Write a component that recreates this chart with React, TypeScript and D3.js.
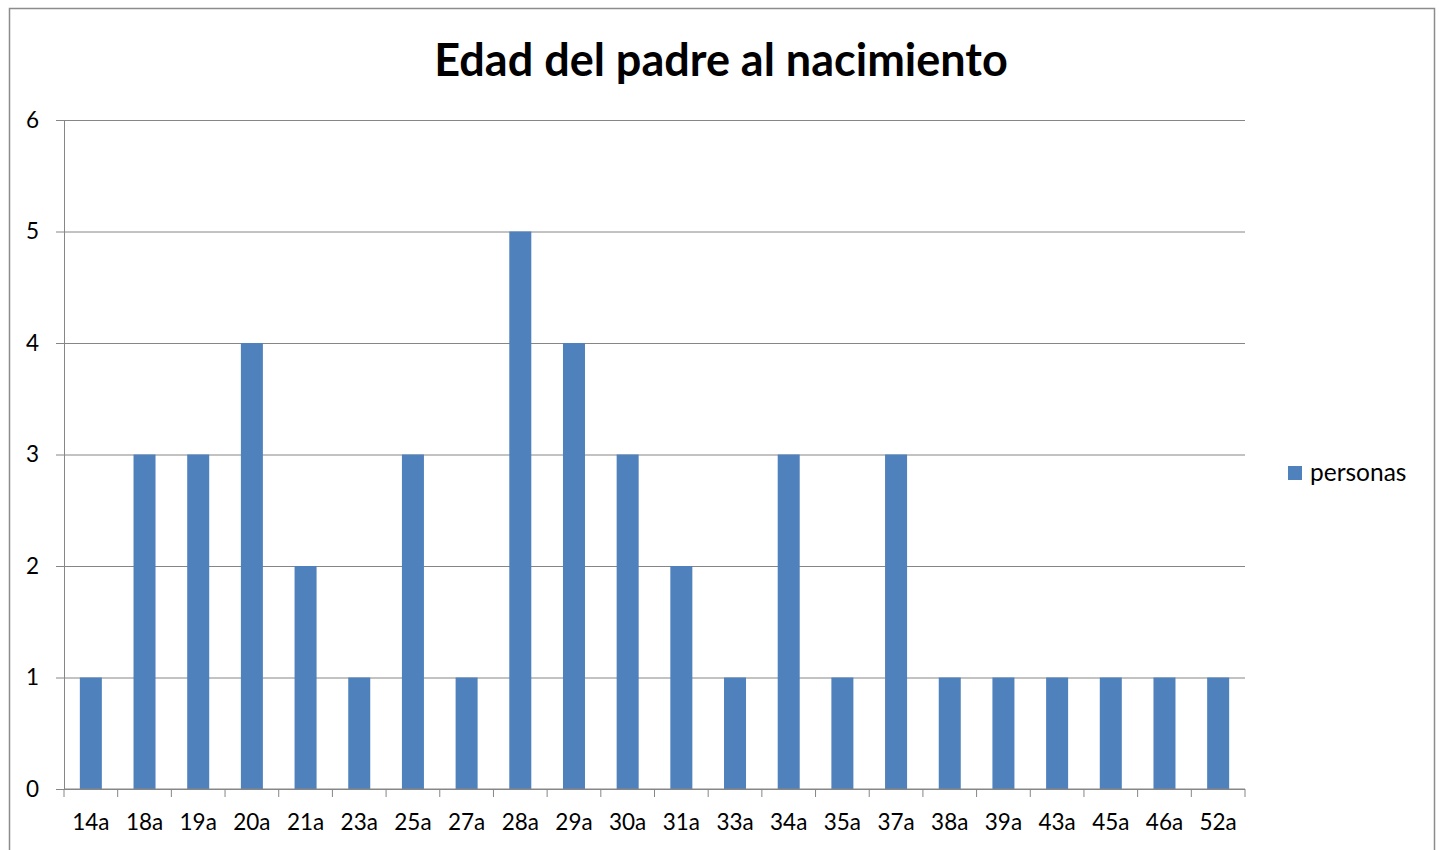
import { useRef, useEffect } from 'react'
import { select, scaleBand, scaleLinear, axisBottom, axisLeft } from 'd3'

const categories = ['14a', '18a', '19a', '20a', '21a', '23a', '25a', '27a', '28a', '29a', '30a', '31a', '33a', '34a', '35a', '37a', '38a', '39a', '43a', '45a', '46a', '52a']
const personas = [1, 3, 3, 4, 2, 1, 3, 1, 5, 4, 3, 2, 1, 3, 1, 3, 1, 1, 1, 1, 1, 1]
const yTicks = [0, 1, 2, 3, 4, 5, 6]

const title = 'Edad del padre al nacimiento'
const seriesName = 'personas'
const font = 'Lato, "Open Sans", sans-serif'

const App = () => {
  const svgRef = useRef<SVGSVGElement>(null)

  useEffect(() => {
    const svg = select(svgRef.current)
    svg.selectAll('*').remove()

    const margin = { top: 120, left: 64, right: 1245, bottom: 789 }

    const xScale = scaleBand<string>()
      .domain(categories)
      .range([margin.left, margin.right])
      .paddingInner(0.59)
      .paddingOuter(0.295)

    const yScale = scaleLinear().domain([0, 6]).range([margin.bottom, margin.top])

    // frame
    svg.append('rect')
      .attr('x', 9.5).attr('y', 8.5)
      .attr('width', 1425).attr('height', 900)
      .attr('fill', 'white')
      .attr('stroke', '#8c8c8c')
      .attr('stroke-width', 1.5)

    // grid
    const yAxis = axisLeft(yScale).tickValues(yTicks).tickSize(-(margin.right - margin.left)).tickFormat((d) => String(d))
    const yGroup = svg.append('g').attr('transform', `translate(${margin.left},0)`).call(yAxis)
    yGroup.select('.domain').attr('stroke', '#868686')
    yGroup.selectAll('.tick line').attr('stroke', '#868686').attr('x1', -8)
    yGroup.selectAll('.tick text')
      .attr('x', -25)
      .attr('font-family', font)
      .attr('font-size', 22.5)
      .attr('fill', '#000')

    svg.append('g')
      .selectAll('rect')
      .data(personas)
      .join('rect')
      .attr('x', (_, i) => xScale(categories[i]) as number)
      .attr('y', (d) => yScale(d))
      .attr('width', xScale.bandwidth())
      .attr('height', (d) => margin.bottom - yScale(d))
      .attr('fill', '#4f81bd')

    // x axis with ticks between categories
    const step = xScale.step()
    const xGroup = svg.append('g').attr('transform', `translate(0,${margin.bottom})`)
    xGroup.append('line')
      .attr('x1', margin.left).attr('x2', margin.right)
      .attr('stroke', '#868686')
    xGroup.selectAll('line.tk')
      .data(categories.concat(['']))
      .join('line')
      .attr('class', 'tk')
      .attr('x1', (_, i) => margin.left + i * step)
      .attr('x2', (_, i) => margin.left + i * step)
      .attr('y1', 0).attr('y2', 8)
      .attr('stroke', '#868686')
    const xAxis = axisBottom(xScale).tickSize(0)
    const xa = svg.append('g').attr('transform', `translate(0,${margin.bottom})`).call(xAxis)
    xa.select('.domain').remove()
    xa.selectAll('.tick text')
      .attr('y', 25)
      .attr('font-family', font)
      .attr('font-size', 22.5)
      .attr('fill', '#000')
    xa.selectAll('.tick').attr('transform', (d) => `translate(${margin.left + categories.indexOf(d as string) * step + step / 2},0)`)

    svg.append('text')
      .text(title)
      .attr('x', 721)
      .attr('y', 76)
      .attr('text-anchor', 'middle')
      .attr('font-family', font)
      .attr('font-weight', 'bold')
      .attr('font-size', 45)
      .attr('fill', '#000')

    const legend = svg.append('g').attr('transform', 'translate(1288,466)')
    legend.append('rect').attr('width', 14).attr('height', 14).attr('fill', '#4f81bd')
    legend.append('text')
      .text(seriesName)
      .attr('x', 22).attr('y', 15)
      .attr('font-family', font)
      .attr('font-size', 24.5)
      .attr('fill', '#000')
  }, [])

  return (
    <svg ref={svgRef} width={1439} height={850} style={{ position: 'absolute', left: 0, top: 0 }} />
  )
}

export default App
